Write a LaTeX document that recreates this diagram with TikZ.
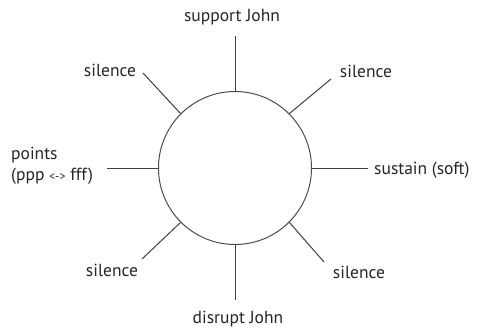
\documentclass[tikz,border=0pt]{standalone}
\usepackage{fontspec}
\setmainfont{PT Sans}
\usetikzlibrary{positioning}

\begin{document}
\begin{tikzpicture}[x=1pt,y=-1pt,
  hub/.style={circle,draw=black!70,line width=1pt,minimum size=153pt,inner sep=0pt},
  spoke/.style={draw=black!75,line width=1pt},
  lbl/.style={font=\fontsize{17.5}{21}\selectfont,text=black!85,inner sep=0pt}
]
\useasboundingbox (0,0) rectangle (480,332);
\node[hub] (hub) at (235,168) {};

% outer ends of the spokes
\coordinate (tp) at (235,36);
\coordinate (bt) at (235,300);
\coordinate (lf) at (107,168);
\coordinate (rt) at (368,168);
\coordinate (ul) at (143,73);
\coordinate (ur) at (331,79);
\coordinate (ll) at (142,259);
\coordinate (lr) at (324,262);

\draw[spoke] (hub.north) -- (tp);
\draw[spoke] (hub.south) -- (bt);
\draw[spoke] (hub.west) -- (lf);
\draw[spoke] (hub.east) -- (rt);
\draw[spoke] (hub.135) -- (ul);
\draw[spoke] (hub.45) -- (ur);
\draw[spoke] (hub.225) -- (ll);
\draw[spoke] (hub.315) -- (lr);

\node[lbl] (support) at (232,17) {support John};
\node[lbl] (silul) at (110,70) {silence};
\node[lbl] (silur) at (366,71) {silence};
\node[lbl,anchor=west,align=left] (points) at (11,166)
  {points\\(ppp {\fontsize{12}{12}\selectfont<->} fff)};
\node[lbl,anchor=west] (sustain) at (374,170) {sustain (soft)};
\node[lbl] (silll) at (112,270) {silence};
\node[lbl] (sillr) at (359,272) {silence};
\node[lbl] (disrupt) at (238,319) {disrupt John};
\end{tikzpicture}
\end{document}
